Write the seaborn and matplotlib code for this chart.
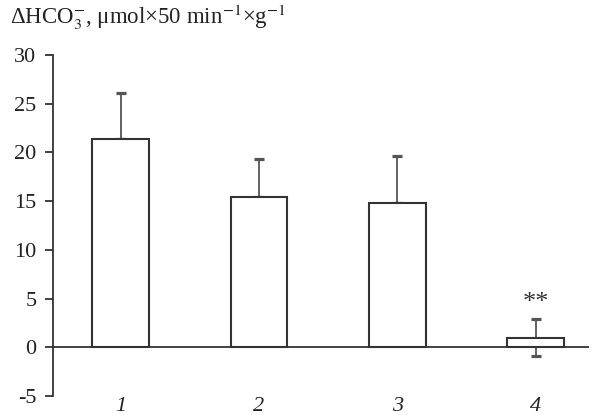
import seaborn as sns
import matplotlib.pyplot as plt
import pandas as pd
import numpy as np

# datos
groups = ['1', '2', '3', '4']
values = [21.4, 15.4, 14.8, 1.0]
err_up = [4.7, 3.9, 4.8, 1.9]
err_down = [0, 0, 0, 1.9]

df = pd.DataFrame({'group': groups, 'value': values})

sns.set_style('ticks')
plt.rcParams['font.family'] = ['Liberation Serif', 'DejaVu Serif']
plt.rcParams['mathtext.fontset'] = 'stix'
plt.rcParams['axes.unicode_minus'] = False
line_col = '#333333'

fig = plt.figure(figsize=(5.96, 4.15), dpi=100)
ax = fig.add_axes([0.089, 0.0458, 0.9, 0.8217])

sns.barplot(data=df, x='group', y='value', ax=ax, color='white',
            edgecolor=line_col, linewidth=1.5, width=0.41, zorder=2)

x = np.arange(len(groups))
ax.errorbar(x, values, yerr=[err_down, err_up], fmt='none', ecolor='#555555',
            elinewidth=1.3, capsize=3.3, capthick=2.3, zorder=1)

ax.axhline(0, color=line_col, lw=1.3, zorder=0)
ax.text(3, values[3] + err_up[3] + 0.5, '**', ha='center', va='bottom', fontsize=19, color=line_col)

ax.set_ylim(-5, 30)
ax.set_xlim(-0.49, 3.39)
ax.set_yticks(np.arange(-5, 31, 5))
ax.set_xlabel('')
ax.set_ylabel('')
ax.tick_params(axis='y', length=6, width=1.3, color=line_col, labelsize=16, pad=6, labelcolor='#222222')
ax.tick_params(axis='x', length=0, labelsize=16, pad=1, labelcolor='#222222')
for lab in ax.get_xticklabels():
    lab.set_fontstyle('italic')

sns.despine(ax=ax, bottom=True)
ax.spines['left'].set_color(line_col)
ax.spines['left'].set_linewidth(1.3)

fig.text(0.017, 1 - 24 / 415, 'ΔHCO$_3^{-}$, μmol×50 min$^{-1}$×g$^{-1}$',
         fontsize=16.5, color='#222222', va='baseline')

fig.savefig('out.png', dpi=100)
